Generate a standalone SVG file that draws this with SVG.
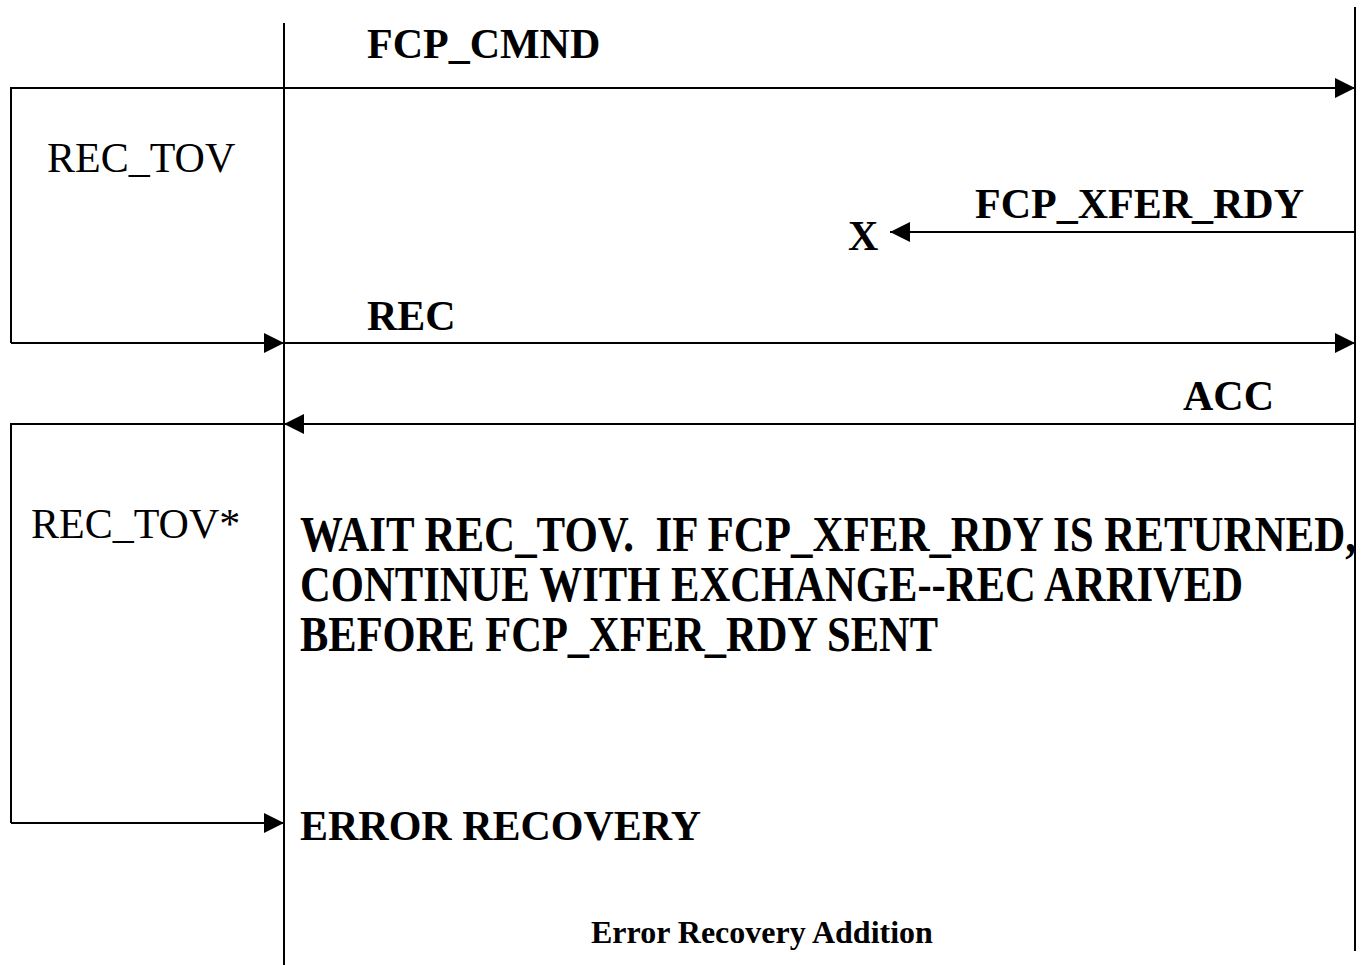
<svg xmlns="http://www.w3.org/2000/svg" width="1361" height="965" viewBox="0 0 1361 965">
<style>
.ln{stroke:#000;stroke-width:2;fill:none}
.b{font-family:"Liberation Serif","Times New Roman",serif;font-weight:bold;font-size:42px;fill:#000}
.r{font-family:"Liberation Serif","Times New Roman",serif;font-size:42px;fill:#000}
.w{font-family:"Liberation Serif","Times New Roman",serif;font-weight:bold;font-size:50px;fill:#000;white-space:pre}
</style>
<defs>
<marker id="ah" markerWidth="20" markerHeight="20" refX="20" refY="10" orient="auto" markerUnits="userSpaceOnUse"><path d="M0,0 L20,10 L0,20 Z" fill="#000"/></marker>
</defs>
<rect width="1361" height="965" fill="#fff"/>
<g id="lifelines">
<line class="ln" x1="284" y1="23" x2="284" y2="965"/>
<line class="ln" x1="1355" y1="7" x2="1355" y2="951"/>
</g>
<g id="connectors">
<path class="ln" d="M284,88 H11 V343"/>
<line class="ln" x1="284" y1="88" x2="1355" y2="88" marker-end="url(#ah)"/>
<line class="ln" x1="11" y1="343" x2="284" y2="343" marker-end="url(#ah)"/>
<line class="ln" x1="284" y1="343" x2="1355" y2="343" marker-end="url(#ah)"/>
<line class="ln" x1="1355" y1="232" x2="890" y2="232" marker-end="url(#ah)"/>
<line class="ln" x1="1355" y1="424" x2="284" y2="424" marker-end="url(#ah)"/>
<path class="ln" d="M284,424 H11 V823"/>
<line class="ln" x1="11" y1="823" x2="284" y2="823" marker-end="url(#ah)"/>
</g>
<g id="labels">
<text class="b" x="367" y="58">FCP_CMND</text>
<text class="r" x="47" y="172">REC_TOV</text>
<text class="b" x="975" y="218">FCP_XFER_RDY</text>
<text class="b" x="848" y="250">X</text>
<text class="b" x="367" y="330">REC</text>
<text class="b" x="1183" y="410">ACC</text>
<text class="r" x="31" y="538">REC_TOV*</text>
<text class="w" x="300" y="551" textLength="1056" lengthAdjust="spacingAndGlyphs">WAIT REC_TOV.  IF FCP_XFER_RDY IS RETURNED,</text>
<text class="w" x="300" y="601" textLength="943" lengthAdjust="spacingAndGlyphs">CONTINUE WITH EXCHANGE--REC ARRIVED</text>
<text class="w" x="300" y="651" textLength="638" lengthAdjust="spacingAndGlyphs">BEFORE FCP_XFER_RDY SENT</text>
<text class="b" x="300" y="840">ERROR RECOVERY</text>
<text class="b" x="591" y="943" style="font-size:32px">Error Recovery Addition</text>
</g>
</svg>
